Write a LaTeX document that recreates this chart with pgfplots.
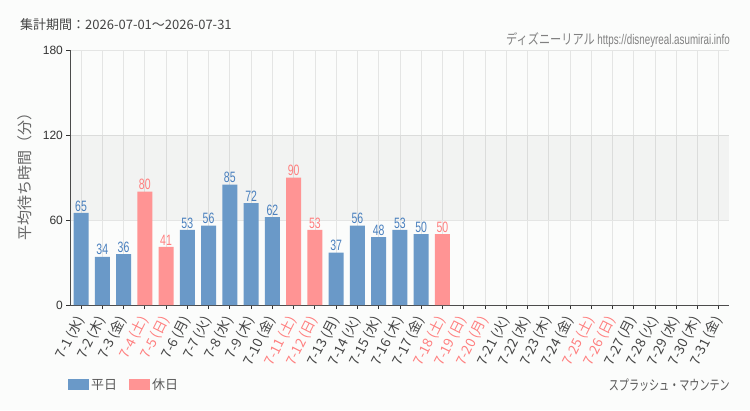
\documentclass[border=0pt]{standalone}
\usepackage{pgfplots}
\pgfplotsset{compat=1.18}
\usepackage{fontspec}
\setmainfont{Noto Sans CJK JP}
\newfontfamily\numfont{Liberation Sans}
\newfontfamily\condfont[FakeStretch=0.7]{Liberation Sans}
\newfontfamily\jpcond[FakeStretch=0.8]{Noto Sans CJK JP}
\newfontfamily\jpcondb[FakeStretch=0.72]{Noto Sans CJK JP}
\definecolor{bgc}{HTML}{FBFCFB}
\definecolor{wkbar}{HTML}{6A99C8}
\definecolor{hobar}{HTML}{FF9494}
\definecolor{wklab}{HTML}{4A80BE}
\definecolor{holab}{HTML}{FF7F7F}
\definecolor{gridc}{HTML}{E4E5E4}
\definecolor{txt}{HTML}{444444}
\begin{document}
\begin{tikzpicture}
\fill[bgc] (0pt,0pt) rectangle (750pt,410pt);
\node[anchor=west, inner sep=0pt, text=txt, font=\fontsize{13}{13}\selectfont] at (20pt,385pt) {集計期間：2026-07-01～2026-07-31};
\node[anchor=east, inner sep=0pt, text=black!50, font=\fontsize{14}{14}\selectfont] at (730pt,370pt) {\jpcond ディズニーリアル \condfont https://disneyreal.asumirai.info};
\node[anchor=east, inner sep=0pt, text=black!65, font=\fontsize{14}{14}\selectfont] at (730pt,25pt) {\jpcondb スプラッシュ・マウンテン};
\begin{axis}[
  at={(70.4pt,105pt)}, anchor=south west,
  scale only axis, width=659pt, height=255pt,
  xmin=-0.5, xmax=30.5, ymin=0, ymax=180,
  ytick={0,60,120,180},
  xtick={0,...,30},
  xticklabels={7-1 (水),7-2 (木),7-3 (金),{\textcolor{holab}{7-4 (土)}},{\textcolor{holab}{7-5 (日)}},7-6 (月),7-7 (火),7-8 (水),7-9 (木),7-10 (金),{\textcolor{holab}{7-11 (土)}},{\textcolor{holab}{7-12 (日)}},7-13 (月),7-14 (火),7-15 (水),7-16 (木),7-17 (金),{\textcolor{holab}{7-18 (土)}},{\textcolor{holab}{7-19 (日)}},{\textcolor{holab}{7-20 (月)}},7-21 (火),7-22 (水),7-23 (木),7-24 (金),{\textcolor{holab}{7-25 (土)}},{\textcolor{holab}{7-26 (日)}},7-27 (月),7-28 (火),7-29 (水),7-30 (木),7-31 (金)},
  xticklabel shift=7pt,
  x tick label style={rotate=63, anchor=east, inner sep=1pt, text=txt, font=\fontsize{13.5}{13.5}\selectfont},
  y tick label style={text=black!80, font=\numfont\fontsize{12}{12}\selectfont},
  /pgf/number format/assume math mode=true,
  axis x line=bottom, axis y line=left,
  axis line style={-, black!70, line width=0.8pt},
  tick align=outside, major tick length=4pt,
  tick style={black!80, line width=0.8pt},
  grid=major, major grid style={gridc, line width=0.7pt},
  ylabel={平均待ち時間（分）},
  ylabel style={at={(axis description cs:-0.069,0.518)}, anchor=center, text=black!60, font=\fontsize{15}{15}\selectfont},
  legend style={at={(axis description cs:-0.0036,-0.3137)}, anchor=west, draw=none, fill=none, inner sep=0pt,
    nodes={inner sep=2pt, text=black!65, font=\fontsize{13}{13}\selectfont},
    /tikz/every even column/.append style={column sep=10pt}},
  legend columns=2,
  legend image code/.code={\fill[#1] (0pt,-5.5pt) rectangle (21pt,5.5pt);},
]
\addplot[draw=none, fill=black, fill opacity=0.035, forget plot]
  coordinates {(-0.5,60) (30.5,60) (30.5,120) (-0.5,120)} -- cycle;
\addplot[ybar, bar shift=0pt, bar width=15pt, fill=wkbar, draw=none,
  nodes near coords, every node near coord/.append style={text=wklab, font=\condfont\fontsize{15}{15}\selectfont, inner sep=1.5pt}]
  coordinates {(0,65)(1,34)(2,36)(5,53)(6,56)(7,85)(8,72)(9,62)(12,37)(13,56)(14,48)(15,53)(16,50)};
\addlegendentry{平日}
\addplot[ybar, bar shift=0pt, bar width=15pt, fill=hobar, draw=none,
  nodes near coords, every node near coord/.append style={text=holab, font=\condfont\fontsize{15}{15}\selectfont, inner sep=1.5pt}]
  coordinates {(3,80)(4,41)(10,90)(11,53)(17,50)};
\addlegendentry{休日}
\end{axis}
\end{tikzpicture}
\end{document}
